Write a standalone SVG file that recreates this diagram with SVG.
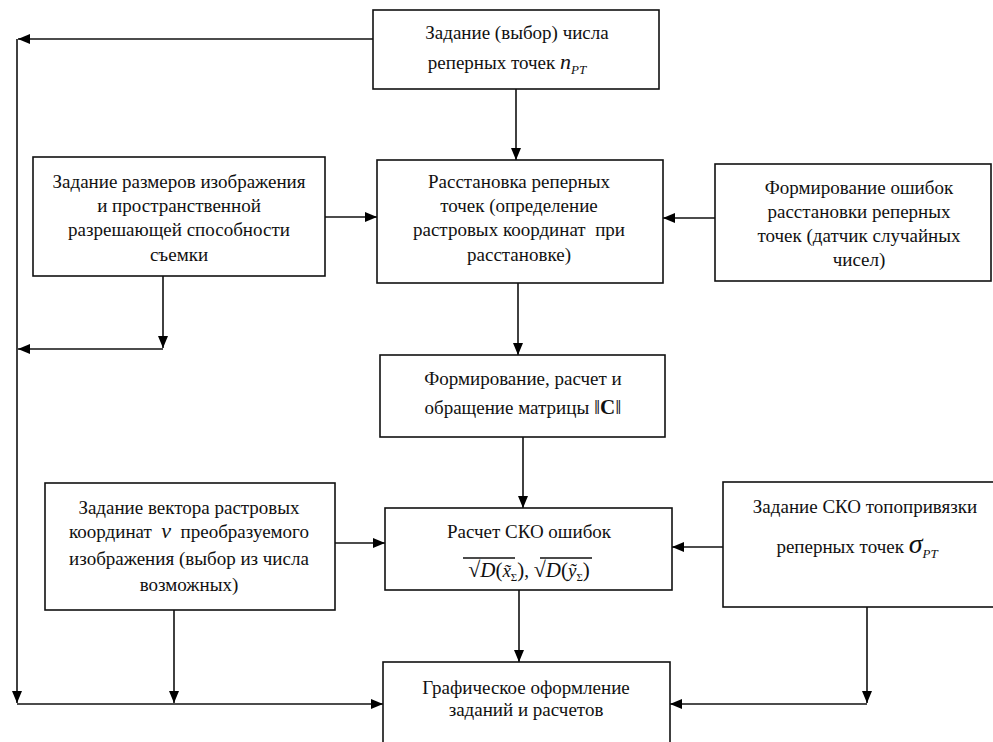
<svg xmlns="http://www.w3.org/2000/svg" width="993" height="742" viewBox="0 0 993 742">
<defs>
<marker id="ah" viewBox="0 0 12 10" refX="12" refY="5" markerWidth="12" markerHeight="10" markerUnits="userSpaceOnUse" orient="auto">
<path d="M0,0 L12,5 L0,10 z" fill="#000"/>
</marker>
</defs>
<style>
.box{fill:#fff;stroke:#111;stroke-width:1.6}
.t{font-family:"Liberation Serif","Times New Roman","DejaVu Serif",serif;font-size:19px;fill:#111;text-anchor:middle}
.i{font-style:italic}
.c{fill:none;stroke:#111;stroke-width:1.6}
</style>
<rect width="993" height="742" fill="#fff"/>
<g id="connectors">
<path class="c" d="M373,39 H18" marker-end="url(#ah)"/>
<path class="c" d="M17,39 V703" marker-end="url(#ah)"/>
<path class="c" d="M516,89 V160" marker-end="url(#ah)"/>
<path class="c" d="M325,217 H377" marker-end="url(#ah)"/>
<path class="c" d="M715,218 H663" marker-end="url(#ah)"/>
<path class="c" d="M163,276 V348" marker-end="url(#ah)"/>
<path class="c" d="M163,349 H18" marker-end="url(#ah)"/>
<path class="c" d="M518,283 V355" marker-end="url(#ah)"/>
<path class="c" d="M523,437 V508" marker-end="url(#ah)"/>
<path class="c" d="M335,543 H385" marker-end="url(#ah)"/>
<path class="c" d="M723,547 H672" marker-end="url(#ah)"/>
<path class="c" d="M519,590 V662" marker-end="url(#ah)"/>
<path class="c" d="M174,610 V703" marker-end="url(#ah)"/>
<path class="c" d="M17,704 H383" marker-end="url(#ah)"/>
<path class="c" d="M867,607 V703" marker-end="url(#ah)"/>
<path class="c" d="M867,704 H670" marker-end="url(#ah)"/>
</g>
<g id="n1">
<rect class="box" x="373" y="10" width="286" height="79"/>
<text class="t" x="517" y="39">Задание (выбор) числа</text>
<text class="t" x="507" y="69">реперных точек <tspan class="i" font-size="22">n</tspan><tspan class="i" font-size="13" dy="5">PT</tspan></text>
</g>
<g id="n2">
<rect class="box" x="33" y="157" width="292" height="119"/>
<text class="t" x="179" y="188">Задание размеров изображения</text>
<text class="t" x="179" y="212">и пространственной</text>
<text class="t" x="179" y="236">разрешающей способности</text>
<text class="t" x="179" y="261">съемки</text>
</g>
<g id="n3">
<rect class="box" x="377" y="160" width="286" height="123"/>
<text class="t" x="519" y="188">Расстановка реперных</text>
<text class="t" x="519" y="212">точек (определение</text>
<text class="t" x="519" y="236" xml:space="preserve">растровых координат  при</text>
<text class="t" x="519" y="261">расстановке)</text>
</g>
<g id="n4">
<rect class="box" x="715" y="164" width="276" height="117"/>
<text class="t" x="859" y="194">Формирование ошибок</text>
<text class="t" x="859" y="218">расстановки реперных</text>
<text class="t" x="859" y="242">точек (датчик случайных</text>
<text class="t" x="859" y="266">чисел)</text>
</g>
<g id="n5">
<rect class="box" x="380" y="355" width="285" height="82"/>
<text class="t" x="523" y="385">Формирование, расчет и</text>
<text class="t" x="523" y="414">обращение матрицы <tspan font-size="22">‖</tspan><tspan font-weight="bold" font-size="21">C</tspan><tspan font-size="22">‖</tspan></text>
</g>
<g id="n6">
<rect class="box" x="385" y="508" width="287" height="82"/>
<text class="t" x="529" y="538">Расчет СКО ошибок</text>
<text class="t" x="529" y="577"><tspan font-size="22">√</tspan><tspan class="i" font-size="21">D</tspan><tspan font-size="21">(</tspan><tspan class="i">x̃</tspan><tspan font-size="11" dy="4">Σ</tspan><tspan font-size="21" dy="-4">)</tspan>, <tspan font-size="22">√</tspan><tspan class="i" font-size="21">D</tspan><tspan font-size="21">(</tspan><tspan class="i">ỹ</tspan><tspan font-size="11" dy="4">Σ</tspan><tspan font-size="21" dy="-4">)</tspan></text>
<path class="c" stroke-width="1.2" d="M463,558 H515 M540,558 H592"/>
</g>
<g id="n7">
<rect class="box" x="45" y="483" width="290" height="127"/>
<text class="t" x="189" y="514">Задание вектора растровых</text>
<text class="t" x="189" y="538" xml:space="preserve">координат  <tspan class="i" font-size="22">ν</tspan>  преобразуемого</text>
<text class="t" x="189" y="565">изображения (выбор из числа</text>
<text class="t" x="189" y="591">возможных)</text>
</g>
<g id="n8">
<rect class="box" x="723" y="482" width="272" height="125"/>
<text class="t" x="865" y="513">Задание СКО топопривязки</text>
<text class="t" x="857" y="553">реперных точек <tspan class="i" font-size="28">σ</tspan><tspan class="i" font-size="13" dy="5">PT</tspan></text>
</g>
<g id="n9">
<rect class="box" x="383" y="662" width="287" height="100"/>
<text class="t" x="526" y="694">Графическое оформление</text>
<text class="t" x="526" y="716">заданий и расчетов</text>
</g>
</svg>
